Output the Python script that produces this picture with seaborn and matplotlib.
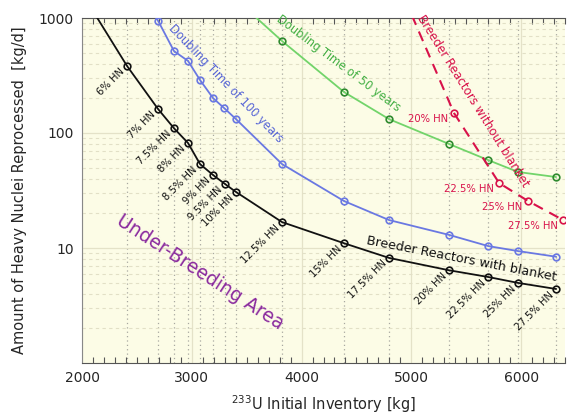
import numpy as np
import pandas as pd
import matplotlib
matplotlib.use("Agg")
import matplotlib.pyplot as plt
import seaborn as sns
from matplotlib.ticker import FixedLocator, MultipleLocator, NullFormatter

# ---------------- data ----------------
hn_labels = ["6% HN", "7% HN", "7.5% HN", "8% HN", "8.5% HN", "9% HN", "9.5% HN",
             "10% HN", "12.5% HN", "15% HN", "17.5% HN", "20% HN", "22.5% HN",
             "25% HN", "27.5% HN"]
inventory = [2410, 2692, 2838, 2966, 3075, 3194, 3303, 3403, 3822, 4387, 4797,
             5344, 5699, 5973, 6319]

# Breeder reactors with blanket (black), plus one point above the frame
blanket_x = [2100] + inventory
blanket_y = [1150, 383, 162, 110, 81.8, 53.7, 43.1, 36.0, 30.7, 16.8, 11.0, 8.2,
             6.4, 5.6, 4.97, 4.4]

# Doubling time of 100 years (blue)
dt100_x = [2410, 2692, 2838, 2966, 3075, 3194, 3294, 3403, 3822, 4387, 4797,
           5344, 5699, 5973, 6319]
dt100_y = [2400, 950, 516, 423, 289, 201, 165, 132, 53.7, 25.6, 17.5, 13.0,
           10.4, 9.4, 8.4]

# Doubling time of 50 years (green)
dt50_x = [3403, 3822, 4387, 4797, 5344, 5699, 5973, 6319]
dt50_y = [1450, 631, 227, 132, 80.2, 58.2, 45.8, 41.4]

# Breeder reactors without blanket (red, dashed)
noblk_labels = ["20% HN", "22.5% HN", "25% HN", "27.5% HN"]
noblk_x = [4800, 5389, 5800, 6064, 6383]
noblk_y = [3000, 149, 36.7, 25.6, 17.5]

x_ticks = [2000, 3000, 4000, 5000, 6000]
y_ticks = [10, 100, 1000]
y_tick_labels = ["10", "100", "1000"]

# ---------------- style ----------------
sns.set_style("ticks")
plt.rcParams["font.family"] = ["DejaVu Sans"]

BLACK = "#111111"
BLUE = "#6a78e2"
BLUE_TXT = "#5866d6"
GREEN = "#72d46a"
GREEN_DK = "#2f8a2f"
RED = "#d8124a"
PURPLE = "#8a2a9e"
BG = "#fcfce6"

fig = plt.figure(figsize=(5.7, 4.16), dpi=100)
ax = fig.add_axes([82 / 570, 1 - 363 / 416, (565 - 82) / 570, (363 - 18) / 416])
ax.set_facecolor(BG)
ax.set_yscale("log")
ax.set_xlim(2000, 6400)
ax.set_ylim(1, 1000)

# grids
ax.xaxis.set_major_locator(FixedLocator(x_ticks))
ax.xaxis.set_minor_locator(MultipleLocator(100))
ax.grid(True, which="major", axis="both", color="#e4e2c8", lw=0.9, ls="-", zorder=0)
ax.grid(True, which="minor", axis="y", color="#e2e0c6", lw=0.8, ls=(0, (3, 3)), zorder=0)
for xv in inventory:
    ax.axvline(xv, color="#a8a8a0", lw=0.9, ls=(0, (1, 2.5)), zorder=0.5)

# series
df_blk = pd.DataFrame({"x": blanket_x, "y": blanket_y})
df_100 = pd.DataFrame({"x": dt100_x, "y": dt100_y})
df_50 = pd.DataFrame({"x": dt50_x, "y": dt50_y})
df_red = pd.DataFrame({"x": noblk_x, "y": noblk_y})

common = dict(marker="o", markersize=4.8, markerfacecolor="none", markeredgewidth=1.2,
              sort=False, estimator=None, ax=ax, zorder=3)
sns.lineplot(data=df_50, x="x", y="y", color=GREEN, lw=1.3, markeredgecolor=GREEN_DK, **common)
sns.lineplot(data=df_100, x="x", y="y", color=BLUE, lw=1.3, markeredgecolor=BLUE, **common)
sns.lineplot(data=df_red, x="x", y="y", color=RED, lw=1.5, ls=(0, (5, 3.5)),
             markeredgecolor=RED, **common)
sns.lineplot(data=df_blk, x="x", y="y", color=BLACK, lw=1.3, markeredgecolor=BLACK, **common)

# HN labels on black curve
for lab, xv, yv in zip(hn_labels, blanket_x[1:], blanket_y[1:]):
    ax.annotate(lab, (xv, yv), xytext=(-3, -3), textcoords="offset points",
                rotation=45, rotation_mode="anchor", ha="right", va="center",
                fontsize=7.2, color=BLACK, zorder=4)

# HN labels on red curve
for lab, xv, yv in zip(noblk_labels, noblk_x[1:], noblk_y[1:]):
    ax.annotate(lab, (xv, yv), xytext=(-4, -1), textcoords="offset points",
                ha="right", va="top", fontsize=7.2, color=RED, zorder=4)

# curve titles
def px_text(px, py, s, **kw):
    fig.text(px / 570, 1 - py / 416, s, ha="center", va="center",
             rotation_mode="anchor", **kw)

px_text(226, 84, "Doubling Time of 100 years", rotation=-46, fontsize=8.3, color=BLUE_TXT)
px_text(338, 63, "Doubling Time of 50 years", rotation=-37, fontsize=8.3, color="#45b045")
px_text(473, 101, "Breeder Reactors without blanket", rotation=-58, fontsize=8.6, color=RED)
px_text(462, 259, "Breeder Reactors with blanket", rotation=-11, fontsize=9.2, color=BLACK)
px_text(200, 272, "Under-Breeding Area", rotation=-33, fontsize=13.5, color=PURPLE)

# ticks & spines
ax.set_yticks(y_ticks)
ax.set_yticklabels(y_tick_labels)
ax.yaxis.set_minor_formatter(NullFormatter())
ax.set_xticklabels([str(v) for v in x_ticks])
ax.tick_params(axis="y", which="both", length=0, labelsize=10, pad=6)
ax.tick_params(axis="x", which="both", direction="in", top=True, bottom=True,
               labelsize=10, pad=6, color="#555555")
ax.tick_params(axis="x", which="major", length=0)
ax.tick_params(axis="x", which="minor", length=4, width=0.8)
ax.spines["right"].set_visible(False)
ax.spines["left"].set_color("#888888")
ax.spines["bottom"].set_color("#555555")
ax.spines["top"].set_color("#555555")

ax.set_xlabel("$^{233}$U Initial Inventory [kg]", fontsize=10.5, labelpad=6)
ax.set_ylabel("Amount of Heavy Nuclei Reprocessed  [kg/d]", fontsize=10.5, labelpad=8)

fig.savefig("out.png", dpi=100, facecolor="white")
